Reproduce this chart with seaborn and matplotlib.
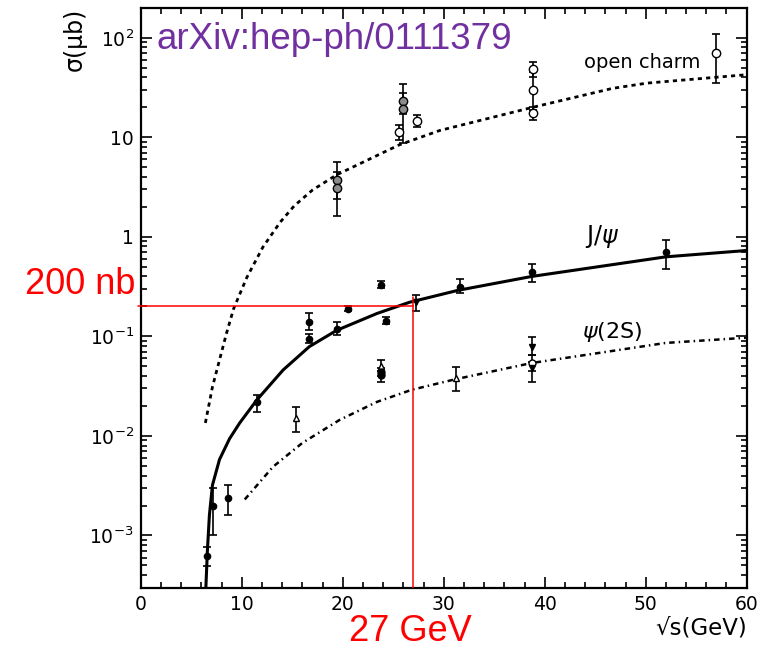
import matplotlib
matplotlib.use("Agg")
import matplotlib.pyplot as plt
import seaborn as sns
import numpy as np
from matplotlib.ticker import FixedLocator, MultipleLocator, LogLocator, NullFormatter

# ---------------- data ----------------
# theory curves
oc_curve_x = [6.4, 7.1, 7.8, 8.5, 9.2, 10.5, 12.1, 13.8, 15.2, 17.0, 19.4, 25.6, 29.6, 38.8, 46.7, 50.1, 59.3, 60.0]
oc_curve_y = [0.0135, 0.031, 0.058, 0.108, 0.19, 0.39, 0.79, 1.4, 2.05, 2.95, 4.2, 8.4, 11.7, 20, 31, 35, 42, 42.5]

jp_curve_x = [6.45, 6.6, 6.8, 7.1, 7.8, 8.8, 9.8, 11.5, 14.1, 16.7, 19.4, 23.4, 26.6, 31.4, 38.7, 52.0, 59.3, 60.0]
jp_curve_y = [3e-4, 7e-4, 0.0016, 0.0032, 0.0058, 0.0094, 0.0135, 0.023, 0.046, 0.079, 0.115, 0.17, 0.22, 0.29, 0.40, 0.63, 0.72, 0.73]

ps_curve_x = [10.3, 13.1, 16.0, 19.7, 23.4, 26.8, 29.6, 31.1, 38.7, 52.0, 59.3, 60.0]
ps_curve_y = [0.0023, 0.0049, 0.0085, 0.0145, 0.022, 0.029, 0.034, 0.037, 0.054, 0.086, 0.096, 0.097]

# open charm data
oc_x = [19.4, 19.4, 25.6, 26.0, 26.0, 27.4, 38.8, 38.8, 38.8, 57.0]
oc_y = [3.7, 3.1, 11.4, 23.0, 19.4, 14.7, 49.0, 30.0, 17.6, 70.0]
oc_lo = [2.4, 1.63, 9.4, 17.0, 8.8, 12.7, 40.0, 19.0, 15.0, 35.0]
oc_hi = [5.6, 4.5, 13.4, 34.0, 28.0, 16.9, 57.0, 45.0, 20.0, 110.0]
oc_fill = ["#8c8c8c", "#8c8c8c", "white", "#8c8c8c", "#8c8c8c", "white", "white", "white", "white", "white"]

# J/psi data
jp_x = [6.6, 7.2, 8.6, 11.5, 16.7, 16.7, 19.4, 20.5, 23.8, 24.3, 27.3, 31.6, 38.7, 52.0]
jp_y = [6.2e-4, 0.0020, 0.0024, 0.022, 0.14, 0.094, 0.119, 0.19, 0.33, 0.144, 0.22, 0.31, 0.44, 0.70]
jp_lo = [4.9e-4, 0.0010, 0.0016, 0.0174, 0.115, 0.085, 0.104, 0.178, 0.305, 0.134, 0.18, 0.275, 0.35, 0.48]
jp_hi = [7.6e-4, 0.0030, 0.0032, 0.0257, 0.172, 0.105, 0.14, 0.204, 0.36, 0.155, 0.261, 0.38, 0.535, 0.93]
jp_mark = ["o"] * 10 + ["v"] + ["o"] * 3

# psi(2S) data
ps_x = [15.4, 23.8, 23.8, 23.8, 31.2, 38.7, 38.7, 38.7]
ps_y = [0.015, 0.050, 0.044, 0.041, 0.038, 0.078, 0.054, 0.048]
ps_lo = [0.011, 0.045, 0.040, 0.035, 0.028, 0.065, 0.045, 0.035]
ps_hi = [0.0195, 0.058, 0.048, 0.045, 0.049, 0.099, 0.065, 0.055]
ps_mark = ["^", "^", "o", "o", "^", "v", "o", "v"]
ps_fill = ["white", "white", "black", "black", "white", "black", "white", "black"]

x_ticks = [0, 10, 20, 30, 40, 50, 60]
y_ticks = [1e-3, 1e-2, 1e-1, 1, 10, 100]
y_ticklabels = [r"$10^{-3}$", r"$10^{-2}$", r"$10^{-1}$", "1", "10", r"$10^{2}$"]

# ---------------- figure ----------------
sns.set_style("ticks")
plt.rcParams["font.family"] = ["DejaVu Sans"]
plt.rcParams["mathtext.fontset"] = "dejavusans"
plt.rcParams["text.color"] = "black"
plt.rcParams["axes.labelcolor"] = "black"

fig = plt.figure(figsize=(7.69, 6.5), dpi=100)
ax = fig.add_axes([0.183, 0.095, 0.788, 0.893])
ax.set_yscale("log")
ax.set_xlim(0, 60)
ax.set_ylim(2.95e-4, 200)

# curves
sns.lineplot(x=oc_curve_x, y=oc_curve_y, ax=ax, color="black", lw=2.0,
             linestyle=(0, (1.5, 1.5)), sort=False, estimator=None)
sns.lineplot(x=jp_curve_x, y=jp_curve_y, ax=ax, color="black", lw=2.2,
             sort=False, estimator=None)
sns.lineplot(x=ps_curve_x, y=ps_curve_y, ax=ax, color="black", lw=1.8,
             linestyle=(0, (2.2, 1.6, 0.6, 1.6)), sort=False, estimator=None)

def draw_points(xs, ys, lo, hi, marks, fills, ms):
    for x, y, l, h, m, f in zip(xs, ys, lo, hi, marks, fills):
        ax.errorbar([x], [y], yerr=[[y - l], [h - y]], fmt="none",
                    ecolor="black", elinewidth=1.2, capsize=3.2, capthick=1.2, zorder=3)
        ax.plot([x], [y], marker=m, ms=ms, mfc=f, mec="black", mew=1.0,
                linestyle="none", zorder=4)

draw_points(oc_x, oc_y, oc_lo, oc_hi, ["o"] * len(oc_x), oc_fill, 6)
draw_points(jp_x, jp_y, jp_lo, jp_hi, jp_mark, ["black"] * len(jp_x), 4.5)
draw_points(ps_x, ps_y, ps_lo, ps_hi, ps_mark, ps_fill, 5)

# red guide lines
ax.plot([-0.3, 27], [0.2, 0.2], color="red", lw=1.1, zorder=5, clip_on=False)
ax.plot([27, 27], [0.25, 2.95e-4], color="red", lw=1.1, zorder=5)

# texts
ax.text(1.6, 95, "arXiv:hep-ph/0111379", color="#7030A0", fontsize=26.5,
        family="Liberation Sans", va="center", ha="left")
ax.text(49.7, 57, "open charm", fontsize=14, ha="center", va="center", color="black")
ax.text(45.7, 1.0, r"J/$\psi$", fontsize=17, ha="center", va="center", color="black")
ax.text(46.7, 0.11, r"$\psi$(2S)", fontsize=16, ha="center", va="center", color="black")
fig.text(0.104, 0.547, "200 nb", color="red", fontsize=26, family="Liberation Sans",
         ha="center", va="baseline")
fig.text(0.534, 0.001, "27 GeV", color="red", fontsize=26, family="Liberation Sans",
         ha="center", va="bottom")

# axes styling
ax.xaxis.set_major_locator(FixedLocator(x_ticks))
ax.xaxis.set_minor_locator(MultipleLocator(2))
ax.yaxis.set_major_locator(FixedLocator(y_ticks))
ax.set_yticklabels(y_ticklabels)
ax.yaxis.set_minor_locator(LogLocator(base=10, subs=np.arange(2, 10), numticks=20))
ax.yaxis.set_minor_formatter(NullFormatter())
ax.tick_params(which="both", direction="in", top=True, right=True, width=1.2,
               labelsize=13.5, colors="black")
ax.tick_params(which="major", length=8, pad=5)
ax.tick_params(which="minor", length=4)
for s in ax.spines.values():
    s.set_linewidth(1.6)
    s.set_color("black")

ax.set_xlabel("√s(GeV)", fontsize=16.5, loc="right", labelpad=2, color="black")
ax.set_ylabel("σ(μb)", fontsize=17, loc="top", labelpad=2, color="black")

fig.savefig("out.png", dpi=100)
